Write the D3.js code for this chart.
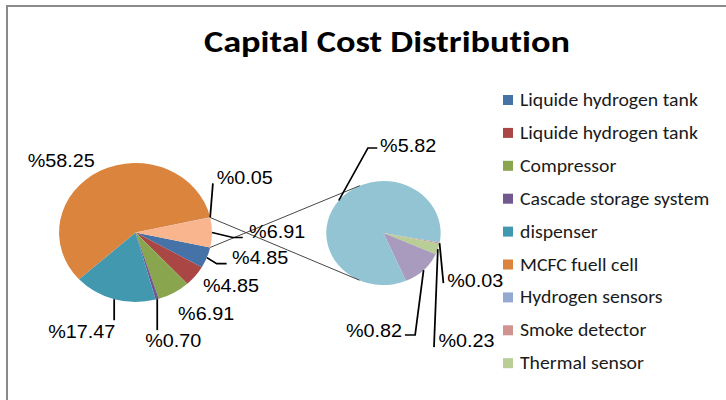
<!DOCTYPE html>
<html>
<head>
<meta charset="utf-8">
<script src="https://cdn.jsdelivr.net/npm/d3@7"></script>
<style>
  body { margin: 0; background: #fff; }
  svg { display: block; }
  text { font-variant-ligatures: none; }
  .lbl { font-family: "Liberation Sans", Arial, sans-serif; font-size: 18px; fill: #000; }
  .leg { font-family: Carlito, Lato, sans-serif; font-size: 17.8px; fill: #1a1a1a; }
</style>
</head>
<body>
<svg width="726" height="400"></svg>
<script>
// legend categories (the legend only has room for the first nine)
const categories = [
  "Liquide hydrogen tank", "Liquide hydrogen tank", "Compressor",
  "Cascade storage system", "dispenser", "MCFC fuell cell",
  "Hydrogen sensors", "Smoke detector", "Thermal sensor"
];
// shares in percent, first pie (categories 1-7)
const mainShares = [4.85, 4.85, 6.91, 0.70, 17.47, 58.25, 0.05];
// the grouped "other" slice of the first pie
const otherShare = 6.91;
// second pie: Smoke detector, Thermal sensor, and two items past the legend
const secondShares = [0.03, 0.23, 0.82, 5.82];

const colors = ["#4572A7", "#AA4643", "#89A54E", "#71588F", "#4198AF", "#DB843D",
                "#93A9CF", "#D09392", "#B9CD96", "#A99BBD", "#93C4D4", "#F9B58D"];

const svg = d3.select('svg');
const rad = deg => deg * Math.PI / 180;

svg.append('rect')
    .attr('x', 7).attr('y', 6)
    .attr('width', 760).attr('height', 420)
    .attr('fill', 'none')
    .attr('stroke', '#8a8a8a')
    .attr('stroke-width', 2);

svg.append('text')
    .attr('x', 387).attr('y', 52)
    .attr('text-anchor', 'middle')
    .style('font-family', 'Carlito, Lato, sans-serif')
    .style('font-weight', 'bold')
    .style('font-size', '31px')
    .attr('textLength', 366)
    .attr('lengthAdjust', 'spacingAndGlyphs')
    .text('Capital Cost Distribution');

// the plot is a little wider than tall, as in the picture
const chart = svg.append('g').attr('transform', 'scale(1.1,1)');

const left = { cx: 123.2, cy: 232.5, r: 69.5 };
const right = { cx: 348.6, cy: 233, r: 52 };

const total = d3.sum(mainShares) + otherShare;
const otherAngle = otherShare / total * 2 * Math.PI;

const mainPie = d3.pie().sort(null).value(d => d.v)
    .startAngle(Math.PI / 2 + otherAngle / 2)
    .endAngle(Math.PI / 2 + otherAngle / 2 + 2 * Math.PI);
const secondPie = d3.pie().sort(null).value(d => d.v)
    .startAngle(Math.PI / 2 + rad(10.5))
    .endAngle(Math.PI / 2 + rad(10.5) + 2 * Math.PI);

const mainData = mainShares.map((v, i) => ({ v, c: colors[i] }))
    .concat([{ v: otherShare, c: colors[11] }]);
const secondData = secondShares.map((v, i) => ({ v, c: colors[7 + i] }));

const mainArcs = mainPie(mainData);
const secondArcs = secondPie(secondData);

const rim = (p, a) => [p.cx + p.r * Math.sin(a), p.cy - p.r * Math.cos(a)];

// label layout: leader points and text offset, relative to the slice's rim point
const mainLayout = [
  { pts: [[0, 0], [9, 6], [18, 6]], t: [23, 6.5], a: 'start' },
  { pts: null, t: [7, 16], a: 'start' },
  { pts: null, t: [3.7, 27.5], a: 'start' },
  { pts: [[0, 0], [0, 31]], t: [-11, 47.5], a: 'start' },
  { pts: [[0, 0], [0, 21]], t: [1, 39], a: 'end' },
  { pts: null, t: [-5, -4], a: 'end' },
  { pts: [[0, 0], [2.5, -34]], t: [6, -33.5], a: 'start' },
  { pts: [[0, 0], [19, 5], [28, 5]], t: [33.7, 6], a: 'start' }
];
const secondLayout = [
  { pts: [[0, 0], [3.5, 40]], t: [7, 44], a: 'start' },
  { pts: [[0, 0], [-3.5, 98]], t: [0.5, 98], a: 'start' },
  { pts: [[0, 0], [-7.7, 65], [-17, 65]], t: [-19.5, 67], a: 'end' },
  { pts: [[0, 0], [26.5, -52.5], [35, -52.5]], t: [37.5, -48.5], a: 'start' }
];

const drawPie = (p, arcs) => {
  const arc = d3.arc().innerRadius(0).outerRadius(p.r);
  chart.append('g')
      .attr('transform', `translate(${p.cx},${p.cy})`)
      .selectAll('path')
      .data(arcs)
      .join('path')
      .attr('d', arc)
      .attr('fill', d => d.data.c);
};
drawPie(left, mainArcs);
drawPie(right, secondArcs);

// connector lines: from the edges of the "other" slice, tangent to the second pie
const otherArc = mainArcs[mainArcs.length - 1];
[otherArc.startAngle, otherArc.endAngle].forEach((a, k) => {
  const [px, py] = rim(left, a);
  const dx = px - right.cx, dy = py - right.cy;
  const d = Math.hypot(dx, dy);
  const base = Math.atan2(dy, dx);
  const off = Math.acos(right.r / d);
  const t = k === 0 ? base - off : base + off;
  chart.append('line')
      .attr('x1', px).attr('y1', py)
      .attr('x2', right.cx + right.r * Math.cos(t))
      .attr('y2', right.cy + right.r * Math.sin(t))
      .attr('stroke', '#3a3a3a')
      .attr('stroke-width', 0.9);
});

const drawLabels = (p, arcs, layout) => {
  arcs.forEach((d, i) => {
    const L = layout[i];
    const [x, y] = rim(p, (d.startAngle + d.endAngle) / 2);
    if (L.pts) {
      chart.append('polyline')
          .attr('points', L.pts.map(q => [x + q[0], y + q[1]].join(',')).join(' '))
          .attr('fill', 'none')
          .attr('stroke', '#000')
          .attr('stroke-width', 1.6);
    }
    chart.append('text')
        .attr('class', 'lbl')
        .attr('x', x + L.t[0])
        .attr('y', y + L.t[1])
        .attr('text-anchor', L.a)
        .text('%' + d.data.v.toFixed(2));
  });
};
drawLabels(left, mainArcs, mainLayout);
drawLabels(right, secondArcs, secondLayout);

// legend
const legend = svg.append('g');
const item = legend.selectAll('g')
    .data(categories)
    .join('g')
    .attr('transform', (_, i) => `translate(503, ${100 + i * 32.9})`);
item.append('rect')
    .attr('x', 0).attr('y', -5)
    .attr('width', 10).attr('height', 10)
    .attr('fill', (_, i) => colors[i]);
item.append('text')
    .attr('class', 'leg')
    .attr('transform', 'translate(17,6) scale(1.11,1)')
    .text(d => d);
</script>
</body>
</html>
